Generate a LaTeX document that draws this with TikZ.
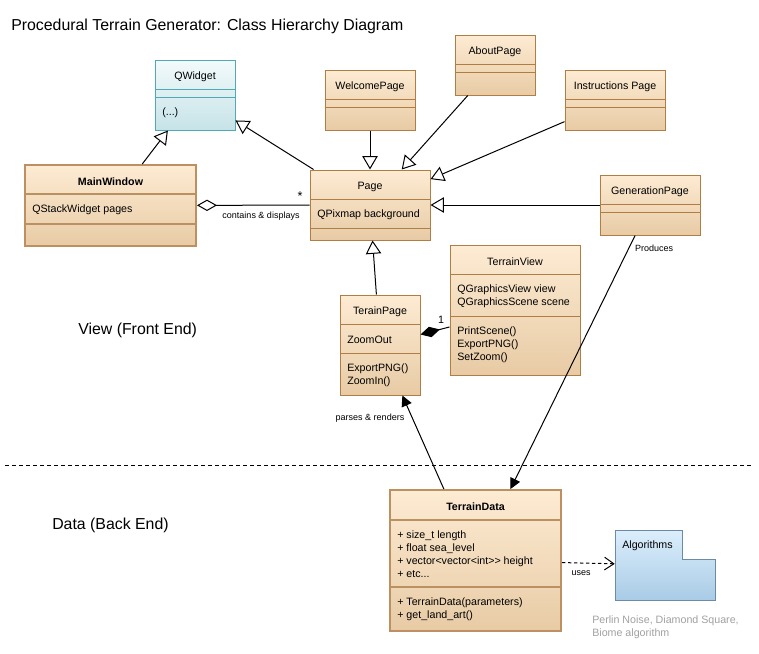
\documentclass[tikz,border=0pt]{standalone}
\usepackage{fontspec}
\setmainfont{Liberation Sans}
\usetikzlibrary{arrows.meta,fit}

\definecolor{boxline}{HTML}{B07D45}
\definecolor{boxtop}{HTML}{FDEBD3}
\definecolor{boxbottom}{HTML}{E8CBA5}
\definecolor{qline}{HTML}{4FAAB4}
\definecolor{qtop}{HTML}{F3FAFB}
\definecolor{qbottom}{HTML}{C6E3E8}
\definecolor{pkgline}{HTML}{6B8AA6}
\definecolor{pkgtop}{HTML}{DCEEFC}
\definecolor{pkgbottom}{HTML}{A9CBE6}
\definecolor{notegray}{HTML}{A0A0A0}

\tikzset{
    classbox/.style={draw=boxline, top color=boxtop, bottom color=boxbottom, inner sep=0pt, line width=0.75pt},
    mainbox/.style={classbox, draw=boxline!85!white, line width=1.5pt},
    qbox/.style={classbox, draw=qline, top color=qtop, bottom color=qbottom},
    classname/.style={inner sep=0pt, font=\fontsize{8}{9.75}\selectfont},
    classtext/.style={inner sep=0pt, anchor=west, align=left, font=\fontsize{8}{9.75}\selectfont},
    linklabel/.style={inner sep=0pt, font=\fontsize{6.75}{8}\selectfont},
    bigtext/.style={inner sep=0pt, anchor=base west, font=\fontsize{11.9}{14}\selectfont},
    inherit/.style={line width=0.75pt, -{Triangle[open, length=10pt, width=11.5pt]}},
    aggregate/.style={line width=0.75pt, {Diamond[open, length=15pt, width=8.5pt]}-},
    compose/.style={line width=0.75pt, {Diamond[length=15pt, width=8pt]}-},
    assoc/.style={line width=0.75pt, -{Triangle[length=8pt, width=8pt]}},
    depend/.style={line width=0.75pt, dash pattern=on 2.5pt off 2pt, -{Straight Barb[length=7pt, width=9.5pt]}}
}

\begin{document}
\begin{tikzpicture}[x=0.75pt,y=0.75pt,yscale=-1,xscale=1]

    \useasboundingbox (0,0) rectangle (759,653);

    % Title and regions
    \node (title) [bigtext] at (11,30) {Procedural Terrain Generator: Class Hierarchy Diagram};
    \node (viewlabel) [bigtext] at (78,334) {View (Front End)};
    \node (datalabel) [bigtext] at (52,529) {Data (Back End)};
    \draw [line width=0.75pt, dash pattern=on 3pt off 2.25pt] (5,465) -- (752,465);

    % Class boxes
    \node (qwidget) [qbox, fit={(155,60) (235,130)}] {};
    \draw [qline, line width=0.75pt] (155,89) -- (235,89) (155,97) -- (235,97);
    \node (qwidget-name) [classname] at (195,76.5) {QWidget};
    \node (qwidget-ops) [classtext] at (162,113) {(...)};

    \node (welcomepage) [classbox, fit={(325,70) (415,130)}] {};
    \draw [boxline, line width=0.75pt] (325,99) -- (415,99) (325,107) -- (415,107);
    \node (welcomepage-name) [classname] at (370,86.5) {WelcomePage};

    \node (aboutpage) [classbox, fit={(455,35) (535,95)}] {};
    \draw [boxline, line width=0.75pt] (455,64) -- (535,64) (455,72) -- (535,72);
    \node (aboutpage-name) [classname] at (495,51.5) {AboutPage};

    \node (instructionspage) [classbox, fit={(565,70) (665,130)}] {};
    \draw [boxline, line width=0.75pt] (565,99) -- (665,99) (565,107) -- (665,107);
    \node (instructionspage-name) [classname] at (615,86.5) {Instructions Page};

    \node (mainwindow) [mainbox, fit={(25,165) (196,246)}] {};
    \draw [boxline!85!white, line width=1.5pt] (25,194) -- (196,194) (25,223.5) -- (196,223.5);
    \node (mainwindow-name) [classname, font=\fontsize{8}{9.75}\selectfont\bfseries] at (110.5,181.5) {MainWindow};
    \node (mainwindow-attr) [classtext] at (32,210) {QStackWidget pages};

    \node (page) [classbox, fit={(310,170) (430,240)}] {};
    \draw [boxline, line width=0.75pt] (310,199) -- (430,199) (310,228.5) -- (430,228.5);
    \node (page-name) [classname] at (370,186.5) {Page};
    \node (page-attr) [classtext] at (317,215) {QPixmap background};

    \node (generationpage) [classbox, fit={(600,175) (700,235)}] {};
    \draw [boxline, line width=0.75pt] (600,204) -- (700,204) (600,212) -- (700,212);
    \node (generationpage-name) [classname] at (650,191.5) {GenerationPage};

    \node (terainpage) [classbox, fit={(340,295) (420,395)}] {};
    \draw [boxline, line width=0.75pt] (340,324) -- (420,324) (340,353) -- (420,353);
    \node (terainpage-name) [classname] at (380,311.5) {TerainPage};
    \node (terainpage-attr) [classtext] at (347,339.5) {ZoomOut};
    \node (terainpage-ops) [classtext] at (347,375.5) {ExportPNG()\\ZoomIn()};

    \node (terrainview) [classbox, fit={(450,245) (580,375)}] {};
    \draw [boxline, line width=0.75pt] (450,274) -- (580,274) (450,316) -- (580,316);
    \node (terrainview-name) [classname] at (515,261.5) {TerrainView};
    \node (terrainview-attr) [classtext] at (457,296.5) {QGraphicsView view\\QGraphicsScene scene};
    \node (terrainview-ops) [classtext] at (457,345) {PrintScene()\\ExportPNG()\\SetZoom()};

    \node (terraindata) [mainbox, fit={(390,490) (561,631)}] {};
    \draw [boxline!85!white, line width=1.5pt] (390,520) -- (561,520) (390,587) -- (561,587);
    \node (terraindata-name) [classname, font=\fontsize{8}{9.75}\selectfont\bfseries] at (475.5,506.5) {TerrainData};
    \node (terraindata-attr) [classtext] at (397,554.5) {+ size\_t length\\+ float sea\_level\\+ vector<vector<int>{}> height\\+ etc...};
    \node (terraindata-ops) [classtext] at (397,609.5) {+ TerrainData(parameters)\\+ get\_land\_art()};

    % Package
    \draw [pkgline, line width=0.75pt, top color=pkgtop, bottom color=pkgbottom]
        (615,530) -- (682,530) -- (682,559) -- (715,559) -- (715,600) -- (615,600) -- cycle;
    \node (algorithms) [inner sep=0pt, fit={(615,530) (715,600)}] {};
    \node (algorithms-name) [classtext] at (622,546) {Algorithms};
    \node (algorithms-note) [classtext, text=notegray] at (592,627.5) {Perlin Noise, Diamond Square,\\Biome algorithm};

    % Connectors
    \draw [inherit] (mainwindow) -- (qwidget);
    \draw [inherit] (page) -- (qwidget);
    \draw [inherit] (welcomepage) -- (page);
    \draw [inherit] (aboutpage) -- (page);
    \draw [inherit] (instructionspage) -- (page);
    \draw [inherit] (generationpage) -- (page);
    \draw [inherit] (terainpage) -- (page);
    \draw [aggregate] (mainwindow) -- (page);
    \draw [compose] (terainpage) -- (terrainview);
    \draw [assoc] (generationpage) -- (terraindata);
    \draw [assoc] (terraindata) -- (terainpage);
    \draw [depend] (terraindata) -- (algorithms);

    % Connector labels
    \node (star) [classname, font=\fontsize{9.5}{10}\selectfont] at (300,196) {*};
    \node (contains) [linklabel] at (261,216) {contains \& displays};
    \node (one) [classname] at (441,320) {1};
    \node (produces) [linklabel] at (654,248) {Produces};
    \node (parses) [linklabel] at (370,418) {parses \& renders};
    \node (uses) [linklabel] at (581,573) {uses};

\end{tikzpicture}
\end{document}
